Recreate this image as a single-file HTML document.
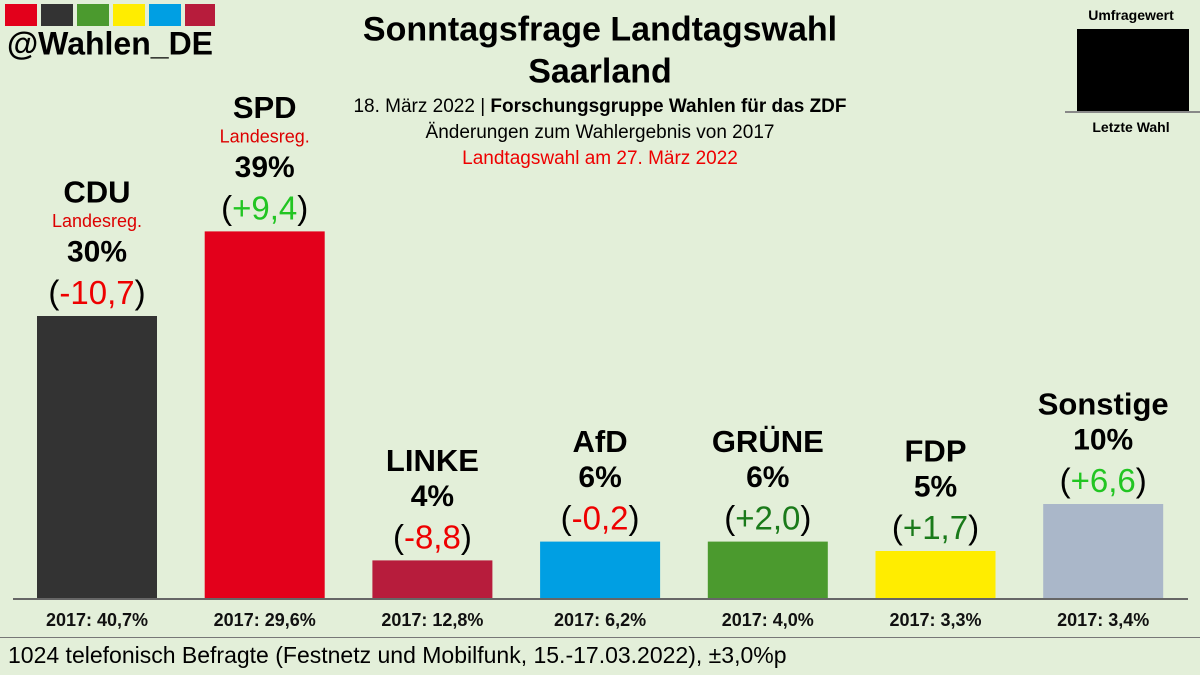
<!DOCTYPE html>
<html><head><meta charset="utf-8"><style>
body{margin:0;width:1200px;height:675px;background:#e3efd9;font-family:"Liberation Sans","DejaVu Sans",sans-serif;position:relative;overflow:hidden}
.t{position:absolute;white-space:nowrap;transform:translate(-50%,-50%)}
</style></head><body>
<div style="position:absolute;left:5px;top:4px">
<svg width="210" height="22"><rect x="0" y="0" width="32" height="22" fill="#e3001b"/><rect x="36" y="0" width="32" height="22" fill="#333"/><rect x="72" y="0" width="32" height="22" fill="#4b9a2e"/><rect x="108" y="0" width="32" height="22" fill="#ffed00"/><rect x="144" y="0" width="32" height="22" fill="#009fe3"/><rect x="180" y="0" width="32" height="22" fill="#b71c3c"/></svg></div>
<div class="t" style="left:110px;top:44px;font-size:32px;font-weight:bold">@Wahlen_DE</div>
<div class="t" style="left:600px;top:30px;font-size:34px;font-weight:bold">Sonntagsfrage Landtagswahl</div>
<div class="t" style="left:600px;top:72px;font-size:34px;font-weight:bold">Saarland</div>
<div class="t" style="left:600px;top:107px;font-size:19px">18. März 2022 | <b>Forschungsgruppe Wahlen für das ZDF</b></div>
<div class="t" style="left:600px;top:133px;font-size:19px">Änderungen zum Wahlergebnis von 2017</div>
<div class="t" style="left:600px;top:159px;font-size:19px;color:#e00">Landtagswahl am 27. März 2022</div>
<div class="t" style="left:1131px;top:15px;font-size:14px;font-weight:bold">Umfragewert</div>
<div style="position:absolute;left:1077px;top:29px;width:112px;height:82px;background:#000"></div>
<div style="position:absolute;left:1065px;top:111px;width:135px;height:2px;background:#888"></div>
<div class="t" style="left:1131px;top:127px;font-size:14px;font-weight:bold">Letzte Wahl</div>
<svg id="c" width="1200" height="675" style="position:absolute;left:0;top:0"></svg>
<div style="position:absolute;left:0;top:637px;width:1200px;height:1px;background:#777"></div>
<div style="position:absolute;left:8px;top:642px;font-size:23px">1024 telefonisch Befragte (Festnetz und Mobilfunk, 15.-17.03.2022), ±3,0%p</div>
<script>
const parties=["CDU","SPD","LINKE","AfD","GRÜNE","FDP","Sonstige"];
const values=[30,39,4,6,6,5,10];
const changes=["-10,7","+9,4","-8,8","-0,2","+2,0","+1,7","+6,6"];
const changeColors=["#e00","#22c522","#e00","#e00","#1a7a1a","#1a7a1a","#22c522"];
const prev=["40,7","29,6","12,8","6,2","4,0","3,3","3,4"];
const gov=[true,true,false,false,false,false,false];
const colors=["#333333","#e3001b","#b71c3c","#009fe3","#4b9a2e","#ffed00","#aab7c9"];
const NS="http://www.w3.org/2000/svg",svg=document.getElementById('c');
const base=598,scale=9.4,x0=37,step=167.7,bw=120;
const y=v=>base-v*scale,x=i=>x0+i*step;
function tx(s,cx,cy,size,weight,fill,name){const t=document.createElementNS(NS,'text');t.setAttribute('x',cx);t.setAttribute('y',cy);t.setAttribute('text-anchor','middle');t.setAttribute('dominant-baseline','central');t.setAttribute('font-size',size);t.setAttribute('font-weight',weight);t.setAttribute('fill',fill);t.textContent=s;


svg.appendChild(t);return t;}
parties.forEach((p,i)=>{
const r=document.createElementNS(NS,'rect');r.setAttribute('x',x(i));r.setAttribute('y',y(values[i]));r.setAttribute('width',bw);r.setAttribute('height',values[i]*scale);r.setAttribute('fill',colors[i]);


svg.appendChild(r);
const cx=x(i)+bw/2,top=y(values[i]);
const ch=tx('',cx,top-24,33,'normal','#000','change-'+p.toLowerCase());
ch.innerHTML='(<tspan fill="'+changeColors[i]+'">'+changes[i]+'</tspan>)';
tx(values[i]+'%',cx,top-64,30,'bold','#000','value-'+p.toLowerCase());
if(gov[i]){tx('Landesreg.',cx,top-95,18,'normal','#d00','gov-'+p.toLowerCase());tx(p,cx,top-124,31,'bold','#000','name-'+p.toLowerCase());}
else tx(p,cx,top-100,31,'bold','#000','name-'+p.toLowerCase());
tx('2017: '+prev[i]+'%',cx,620,18,'bold','#111','prev-'+p.toLowerCase());
});
const l=document.createElementNS(NS,'line');l.setAttribute('x1',13);l.setAttribute('x2',1188);l.setAttribute('y1',599);l.setAttribute('y2',599);l.setAttribute('stroke','#666');l.setAttribute('stroke-width',2);


svg.appendChild(l);
</script>
</body></html>
